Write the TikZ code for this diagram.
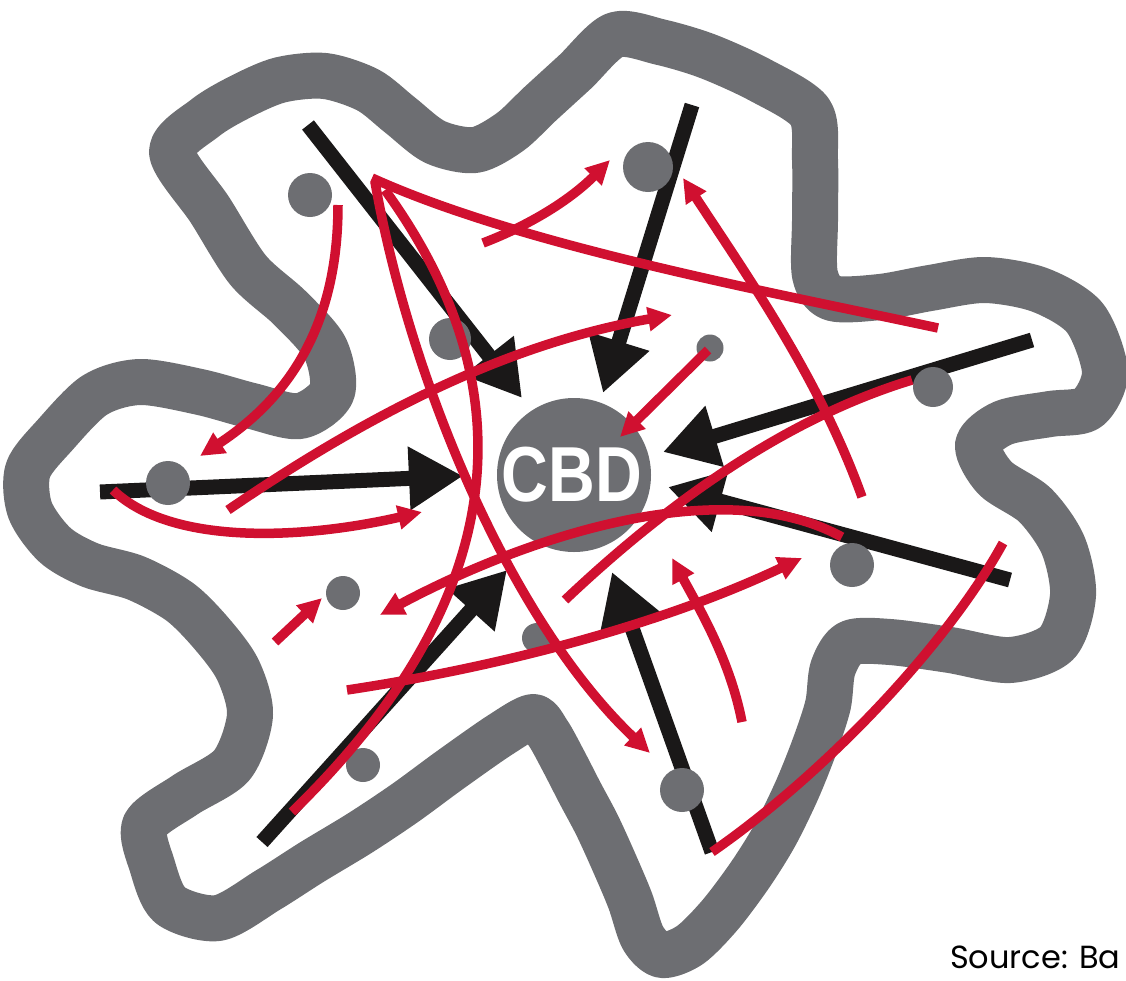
\documentclass[tikz,border=0pt]{standalone}
\usepackage{fontspec}
\newfontfamily\cbdfont{Liberation Sans}
\newfontfamily\srcfont{Poppins}
\usetikzlibrary{arrows.meta}
\definecolor{citygray}{RGB}{109,110,114}
\definecolor{flowred}{RGB}{208,16,48}
\definecolor{flowblack}{RGB}{26,24,24}
\begin{document}
\begin{tikzpicture}[x=1pt,y=-1pt,
  cityline/.style={draw=citygray, line width=46pt, line join=round, line cap=round},
  radial/.style={draw=flowblack, line width=15pt, -{Triangle[length=54pt,width=60pt]}},
  flow/.style={draw=flowred, line width=9.5pt},
  flowto/.style={flow, -{Triangle[length=24pt,width=23pt]}},
  flowfrom/.style={flow, {Triangle[length=24pt,width=23pt]}-},
  hub/.style={circle, fill=citygray, draw=none, inner sep=0pt, minimum size=#1},
  cbdlabel/.style={text=white, inner sep=0pt, font=\cbdfont\bfseries\fontsize{78}{78}\selectfont},
  source/.style={text=black, inner sep=0pt, anchor=base west, font=\srcfont\fontsize{32}{32}\selectfont}
]
\useasboundingbox (0,0) rectangle (1126,980);

% city boundary
\draw[cityline] plot[smooth cycle, tension=0.5] coordinates {
(172,152) (205,118) (240,97) (280,80) (325,76) (368,90) (400,115) (435,142)
(475,150) (510,132) (540,104) (575,72) (615,35) (660,42) (707,56) (760,80)
(810,112) (815,160) (815,220) (815,275) (832,298) (880,297) (930,288) (985,280)
(1040,290) (1085,318) (1105,372) (1088,408) (1050,414) (1003,423) (978,445)
(995,478) (1035,505) (1063,545) (1073,595) (1057,643) (1010,660) (950,650)
(890,642) (850,643) (833,668) (828,705) (815,745) (797,790) (775,835) (750,875)
(720,915) (690,945) (662,955) (643,938) (630,900) (613,860) (597,825) (580,793)
(563,760) (548,733) (533,717) (500,735) (450,770) (405,803) (360,833) (312,862)
(268,890) (218,918) (170,905) (152,865) (145,825) (185,795) (232,765) (250,715)
(238,670) (212,634) (180,602) (136,578) (90,565) (55,545) (30,510) (28,470)
(55,435) (95,395) (140,382) (200,392) (252,406) (300,416) (332,392) (325,348)
(290,308) (248,270) (210,210)};

% radial (black) arrows: tails and tips
\coordinate (t1) at (308,125);  \coordinate (h1) at (522,398);
\coordinate (t2) at (692,105);  \coordinate (h2) at (603,393);
\coordinate (t3) at (1032,340); \coordinate (h3) at (663,452);
\coordinate (t4) at (100,492);  \coordinate (h4) at (463,476);
\coordinate (t5) at (1010,580); \coordinate (h5) at (668,487);
\coordinate (t6) at (712,852);  \coordinate (h6) at (612,572);
\coordinate (t7) at (262,842);  \coordinate (h7) at (507,570);
\foreach \i in {1,...,7} \draw[radial] (t\i) -- (h\i);

% sub-centres and CBD
\node[hub=44pt] (n1) at (310,195) {};
\node[hub=50pt] (n2) at (648,167) {};
\node[hub=42pt] (n3) at (450,339) {};
\node[hub=27pt] (n4) at (710,348) {};
\node[hub=40pt] (n5) at (933,387) {};
\node[hub=44pt] (n6) at (168,483) {};
\node[hub=34pt] (n7) at (343,593) {};
\node[hub=44pt] (n8) at (852,565) {};
\node[hub=34pt] (n9) at (363,765) {};
\node[hub=44pt] (n10) at (682,790) {};
\node[hub=30pt] (n11) at (537,638) {};
\node[hub=154pt] (cbd) at (574,475) {};

% red cross-flows: end points
\coordinate (a1) at (338,205);  \coordinate (b1) at (200,456);
\coordinate (a2) at (372,178);  \coordinate (b2) at (938,328);
\coordinate (a3) at (483,243);  \coordinate (b3) at (610,160);
\coordinate (a4) at (375,182);  \coordinate (b4) at (650,753);
\coordinate (a5) at (385,190);  \coordinate (b5) at (292,812);
\coordinate (a6) at (683,178);  \coordinate (b6) at (862,497);
\coordinate (a7) at (228,510);  \coordinate (b7) at (672,315);
\coordinate (a8) at (708,350);  \coordinate (b8) at (620,437);
\coordinate (a9) at (113,490);  \coordinate (b9) at (422,512);
\coordinate (a10) at (347,690); \coordinate (b10) at (802,558);
\coordinate (a11) at (380,615); \coordinate (b11) at (842,537);
\coordinate (a12) at (565,600); \coordinate (b12) at (912,380);
\coordinate (a13) at (672,558); \coordinate (b13) at (742,722);
\coordinate (a14) at (1003,543);\coordinate (b14) at (712,852);
\coordinate (a15) at (275,642); \coordinate (b15) at (322,598);

\draw[flowto] (a1) .. controls (338,330) and (285,400) .. (b1);
\draw[flow] (a2) .. controls (520,245) and (760,290) .. (b2);
\draw[flowto] (a3) .. controls (530,225) and (570,200) .. (b3);
\draw[flowto] (a4) .. controls (410,380) and (510,620) .. (b4);
\draw[flow] (a5) .. controls (530,390) and (510,600) .. (b5);
\draw[flowfrom] (a6) .. controls (750,280) and (820,380) .. (b6);
\draw[flowto] (a7) .. controls (360,420) and (500,345) .. (b7);
\draw[flowto] (a8) -- (b8);
\draw[flowto] (a9) .. controls (170,545) and (300,540) .. (b9);
\draw[flowto] (a10) .. controls (480,670) and (650,630) .. (b10);
\draw[flowfrom] (a11) .. controls (520,540) and (720,470) .. (b11);
\draw[flow] (a12) .. controls (660,510) and (780,420) .. (b12);
\draw[flowfrom] (a13) .. controls (700,610) and (730,660) .. (b13);
\draw[flow] (a14) .. controls (950,640) and (830,770) .. (b14);
\draw[flowto] (a15) -- (b15);

% labels
\node[cbdlabel] (cbdtext) at (572,475) {\scalebox{0.83}[1]{CBD}};
\node[source] (src) at (950,968) {Source: Ba};
\end{tikzpicture}
\end{document}
